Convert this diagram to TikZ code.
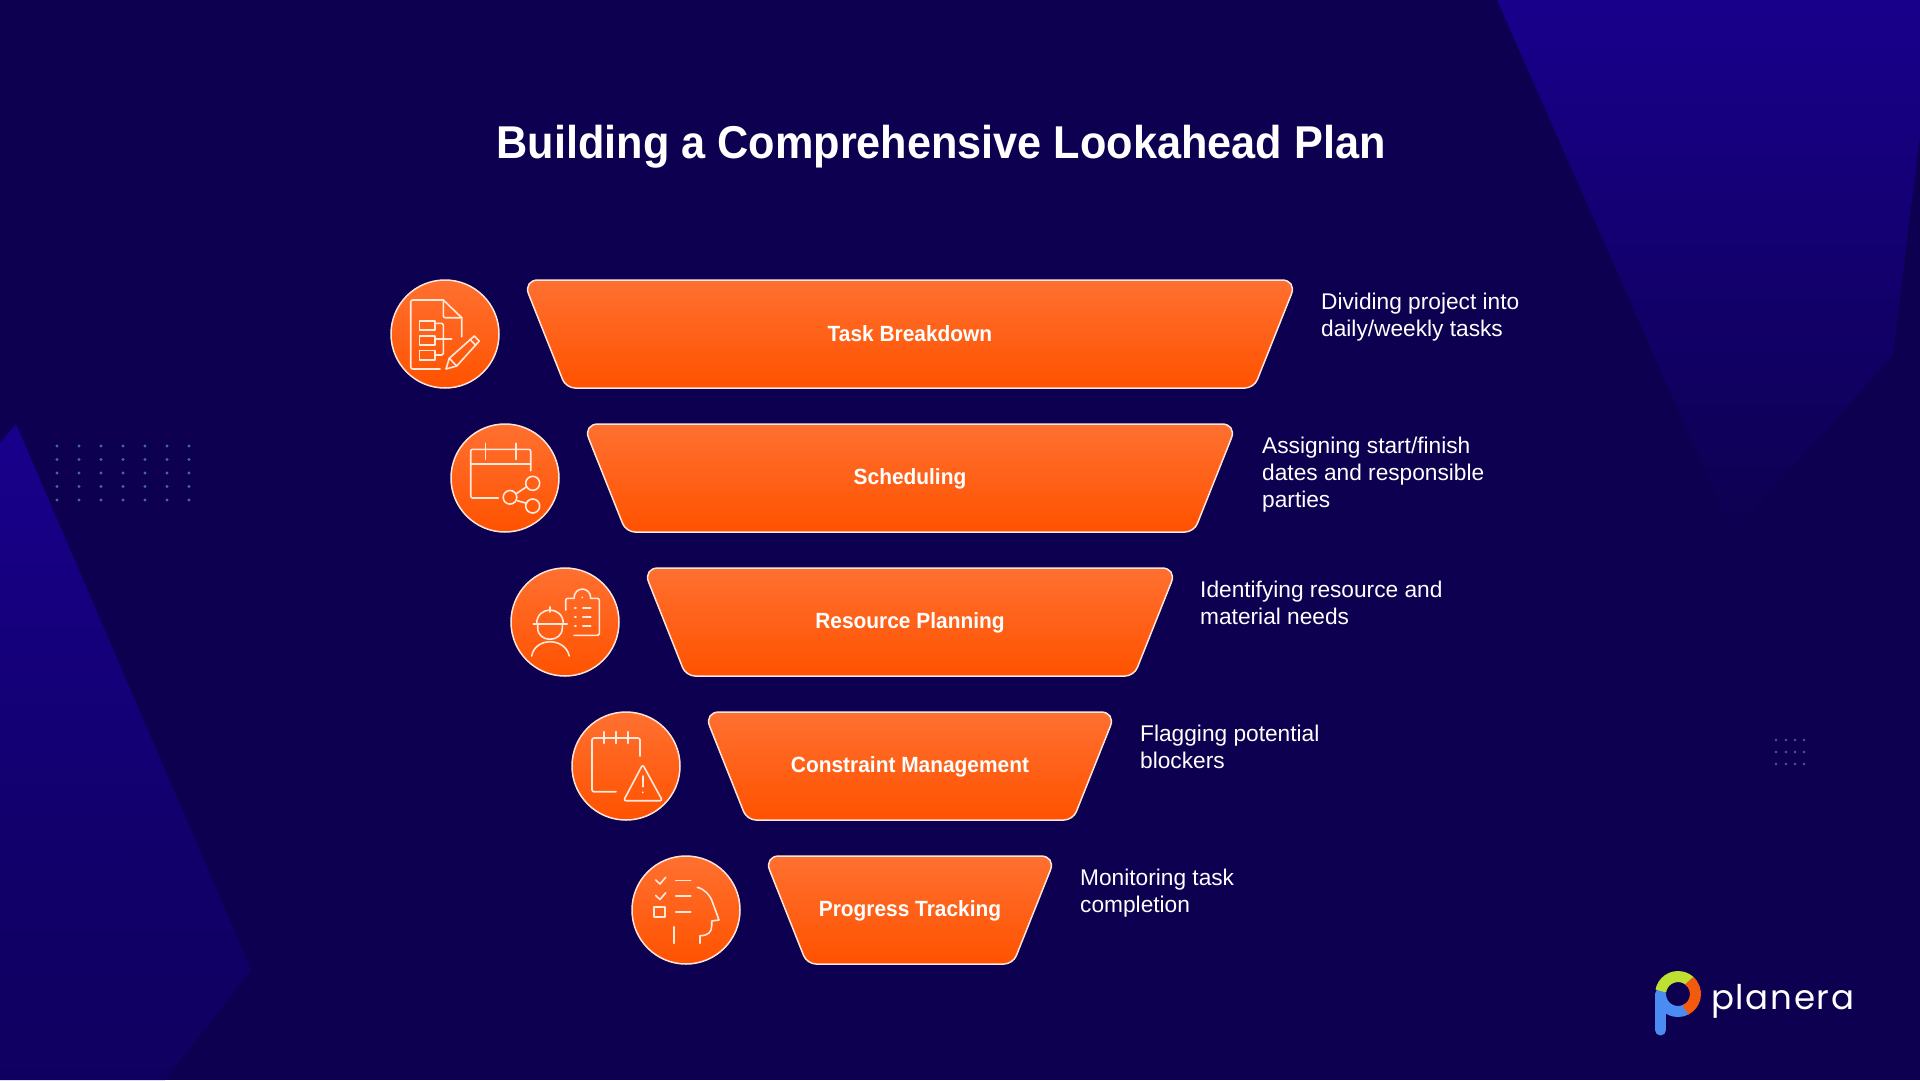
\documentclass[tikz,border=0pt]{standalone}
\usepackage{fontspec}
\setmainfont{Liberation Sans}
\newfontfamily\headfont[FakeStretch=0.94]{Liberation Sans}
\newfontfamily\labelfont[FakeStretch=0.95]{Liberation Sans}
\newfontfamily\logofont[LetterSpace=5]{Poppins}
\definecolor{pagebg}{HTML}{0D0050}
\definecolor{shardtop}{HTML}{19008C}
\definecolor{shardlow}{HTML}{11006A}
\definecolor{shardend}{HTML}{0F0060}
\definecolor{leftdots}{HTML}{46689A}
\definecolor{rightdots}{HTML}{5A50A8}
\definecolor{barhigh}{HTML}{FF7030}
\definecolor{barlow}{HTML}{FF5200}
\definecolor{rimline}{HTML}{FFE6DC}
\definecolor{iconline}{HTML}{FFE8DC}
\definecolor{logolime}{HTML}{BEE032}
\definecolor{logoorange}{HTML}{F25A0E}
\definecolor{logoblue}{HTML}{4A8CF2}
\tikzset{
    barshape/.style={draw=rimline, line width=1.5pt, top color=barhigh, bottom color=barlow},
    iconball/.style={draw=rimline, circle, line width=1.5pt, minimum size=108pt, inner sep=0pt, top color=barhigh, bottom color=barlow},
    iconpen/.style={draw=iconline, line width=1.6pt, line cap=round, line join=round},
    barlabel/.style={text=white, anchor=base, inner sep=0pt, font=\labelfont\bfseries\fontsize{22}{26}\selectfont},
    sidenote/.style={text=white, anchor=north west, align=left, inner sep=0pt, font=\fontsize{22.7}{27}\selectfont},
}
\newcommand{\funnelbar}[3]{
    \draw[barshape] (910, #1) [rounded corners=15pt] -- ({910+#2}, #1) [rounded corners=9pt] -- ({910+#3}, {#1+108}) -- ({910-#3}, {#1+108}) [rounded corners=15pt] -- ({910-#2}, #1) -- cycle;
}
\begin{document}
\begin{tikzpicture}[x=1pt, y=-1pt]
    \fill[pagebg] (0, 0) rectangle (1920, 1080);
    \useasboundingbox (0, 0) rectangle (1920, 1080);

    \shade[top color=shardtop, bottom color=pagebg] (1497, 0) -- (1920, 0) -- (1920, 134) -- (1893, 355) -- (1733, 534) -- cycle;
    \shade[top color=shardtop, bottom color=shardlow] (0, 443) -- (16, 424) -- (200, 851) -- (0, 868) -- cycle;
    \shade[top color=shardlow, bottom color=shardend] (0, 868) -- (200, 851) -- (251, 970) -- (165, 1080) -- (0, 1080) -- cycle;

    \foreach \col in {57, 79, 101, 123, 145, 167, 189}
        \foreach \row in {446, 459.5, 473, 486.5, 500}
            \fill[leftdots] (\col, \row) circle (1.7);
    \foreach \col in {1776, 1786, 1795, 1804}
        \foreach \row in {740, 752, 764}
            \fill[rightdots] (\col, \row) circle (1.3);

    \node[text=white, font=\headfont\bfseries\fontsize{46}{52}\selectfont] (title) at (941, 147) {Building a Comprehensive Lookahead Plan};

    \funnelbar{280}{387}{344}
    \funnelbar{424}{327}{284}
    \funnelbar{568}{267}{224}
    \funnelbar{712}{206}{163}
    \funnelbar{856}{146}{103}

    \node[barlabel] (taskbar) at (910, 341) {Task Breakdown};
    \node[barlabel] (schedbar) at (910, 484.5) {Scheduling};
    \node[barlabel] (resbar) at (910, 628.5) {Resource Planning};
    \node[barlabel] (consbar) at (910, 772.5) {Constraint Management};
    \node[barlabel] (progbar) at (910, 916.5) {Progress Tracking};

    \node[sidenote] (tasknote) at (1321, 293) {Dividing project into\\daily/weekly tasks};
    \node[sidenote] (schednote) at (1262, 437) {Assigning start/finish\\dates and responsible\\parties};
    \node[sidenote] (resnote) at (1200, 581) {Identifying resource and\\material needs};
    \node[sidenote] (consnote) at (1140, 725) {Flagging potential\\blockers};
    \node[sidenote] (prognote) at (1080, 869) {Monitoring task\\completion};

    \node[iconball] (taskicon) at (445, 334) {};
    \node[iconball] (schedicon) at (505, 478) {};
    \node[iconball] (resicon) at (565, 622) {};
    \node[iconball] (consicon) at (626, 766) {};
    \node[iconball] (progicon) at (686, 910) {};

    \draw[iconpen, rounded corners=2pt] (440, 369) -- (410.7, 369) -- (410.7, 300) -- (443.3, 300);
    \draw[iconpen] (443.3, 300) -- (461.7, 317.7) -- (461.7, 336.7);
    \draw[iconpen, rounded corners=2pt] (443.3, 300) -- (443.3, 317.7) -- (461.7, 317.7);
    \draw[iconpen] (419.3, 321) rectangle (435, 330);
    \draw[iconpen] (419.3, 335.7) rectangle (435, 344.7);
    \draw[iconpen] (419.3, 350.3) rectangle (435, 360);
    \draw[iconpen, rounded corners=1.5pt] (435, 323.3) -- (443.3, 323.3) -- (443.3, 355) -- (435, 355);
    \draw[iconpen] (435, 339) -- (451.7, 339);
    \draw[iconpen] (446, 369) -- (449.3, 358.3) -- (474.3, 336) -- (479.3, 341) -- (456.7, 366) -- cycle;
    \draw[iconpen] (449.3, 358.3) -- (456.7, 366);
    \draw[iconpen] (470, 339.5) -- (475.5, 345);

    \draw[iconpen, rounded corners=2pt] (498.3, 498) -- (470.7, 498) -- (470.7, 449.3) -- (530.7, 449.3) -- (530.7, 470.7);
    \draw[iconpen] (470.7, 464) -- (530.7, 464);
    \draw[iconpen] (485.3, 443.3) -- (485.3, 459.3);
    \draw[iconpen] (515.7, 443.3) -- (515.7, 459.3);
    \draw[iconpen] (510, 497.3) circle (6.8);
    \draw[iconpen] (532.7, 483.3) circle (7);
    \draw[iconpen] (532.7, 506) circle (7);
    \draw[iconpen] (516.7, 493.3) -- (526.7, 486.7);
    \draw[iconpen] (517.3, 500.7) -- (526.7, 503.3);

    \draw[iconpen, rounded corners=2pt] (574, 635.3) -- (599.3, 635.3) -- (599.3, 598.3) -- (590.7, 598.3);
    \draw[iconpen] (590.7, 598.3) .. controls (590.7, 586) and (574, 586) .. (574, 598.3);
    \draw[iconpen, rounded corners=2pt] (574, 598.3) -- (565.7, 598.3) -- (565.7, 610);
    \fill[iconline] (582.3, 597.3) circle (1);
    \draw[iconpen] (574.7, 608) -- (576, 608);
    \draw[iconpen] (582.7, 608) -- (590.7, 608);
    \draw[iconpen] (574.7, 617) -- (576, 617);
    \draw[iconpen] (582.7, 617) -- (590.7, 617);
    \draw[iconpen] (574.7, 626) -- (576, 626);
    \draw[iconpen] (582.7, 626) -- (590.7, 626);
    \draw[iconpen] (533.3, 623.7) -- (567.3, 623.7);
    \draw[iconpen] (536.7, 623.7) .. controls (536.7, 605.5) and (563.3, 605.5) .. (563.3, 623.7);
    \draw[iconpen] (550, 606.7) -- (550, 612);
    \draw[iconpen] (537.7, 623.7) -- (537.7, 628) .. controls (537.7, 643) and (562.3, 643) .. (562.3, 628) -- (562.3, 623.7);
    \draw[iconpen] (531.7, 656) .. controls (535, 637) and (565, 637) .. (569.3, 656);

    \draw[iconpen, rounded corners=2pt] (616, 791.7) -- (592, 791.7) -- (592, 738) -- (640, 738) -- (640, 756);
    \draw[iconpen] (604, 731.7) -- (604, 743.3);
    \draw[iconpen] (616, 731.7) -- (616, 743.3);
    \draw[iconpen] (628, 731.7) -- (628, 743.3);
    \draw[iconpen, rounded corners=2.5pt] (642.7, 764.5) -- (623.5, 800.7) -- (662.5, 800.7) -- cycle;
    \draw[iconpen] (642.7, 776) -- (642.7, 786.7);
    \fill[iconline] (642.7, 792.3) circle (1);

    \draw[iconpen] (655.7, 880) -- (660, 884) -- (665.7, 877.3);
    \draw[iconpen] (655.7, 895.5) -- (660, 899.5) -- (665.7, 892.8);
    \draw[iconpen] (654, 906.7) rectangle (664.7, 916.7);
    \draw[iconpen] (675.7, 880.3) -- (690.7, 880.3);
    \draw[iconpen] (675.7, 896) -- (690.7, 896);
    \draw[iconpen] (675.7, 911.7) -- (690.7, 911.7);
    \draw[iconpen] (697.3, 887.3) .. controls (705, 889) and (710, 896) .. (711.7, 900) -- (719, 920) -- (711.7, 921) -- (711.7, 926) .. controls (711.7, 932) and (708, 935.7) .. (700, 935.7) -- (700, 943.3);
    \draw[iconpen] (673.7, 926.7) -- (673.7, 943.3);

    \draw[logoblue, line width=11pt, line cap=round] (1660.5, 1030) -- (1660.5, 994);
    \draw[logoblue, line width=11pt] (1660.5, 994) arc[start angle=180, end angle=60, radius=17.5];
    \draw[logolime, line width=11pt] (1660.8, 991) arc[start angle=190, end angle=320, radius=17.5];
    \draw[logoorange, line width=11pt] (1689.2, 980.6) arc[start angle=-50, end angle=65, radius=17.5];
    \node[text=white, anchor=base west, inner sep=0pt, font=\logofont\fontsize{34}{40}\selectfont] (logotext) at (1711, 1009) {planera};
\end{tikzpicture}
\end{document}
